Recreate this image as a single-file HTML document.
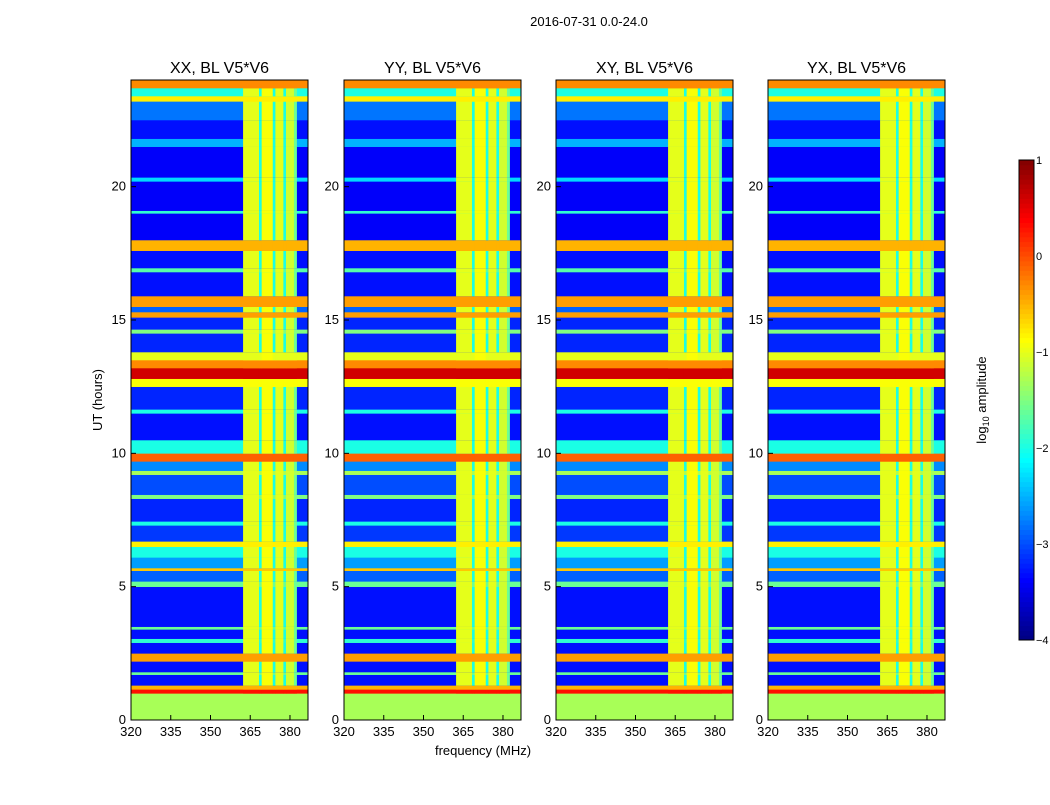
<!DOCTYPE html>
<html><head><meta charset="utf-8"><style>
body{margin:0;background:#fff;}
svg text{font-family:"Liberation Sans",sans-serif;}
</style></head><body>
<svg id="c" width="1050" height="800" xmlns="http://www.w3.org/2000/svg">
<text x="589" y="26" font-size="13" text-anchor="middle">2016-07-31 0.0-24.0</text>
<text x="483" y="755" font-size="13" text-anchor="middle">frequency (MHz)</text>
<text x="102" y="400" font-size="13" text-anchor="middle" transform="rotate(-90 102 400)">UT (hours)</text>
<text x="986" y="400" font-size="13" text-anchor="middle" transform="rotate(-90 986 400)">log<tspan font-size="9" dy="3">10</tspan><tspan dy="-3"> amplitude</tspan></text>
<g id="panels"></g>
<g id="cbar"></g>
</svg>
<script>
const panelTitles=["XX, BL V5*V6","YY, BL V5*V6","XY, BL V5*V6","YX, BL V5*V6"];
const panelLefts=[131,344,556,768];
const xTicks=[320,335,350,365,380];
const yTicks=[0,5,10,15,20];
const cbTicks=[1,0,-1,-2,-3,-4];
// time segments: [startHour, endHour, log10 amplitude]
const timeSegs=[[0,1,-1.3],[1,1.15,0.3],[1.15,1.3,-0.5],[1.3,1.7,-3.3],[1.7,1.8,-1.6],[1.8,2.2,-3.3],[2.2,2.5,-0.4],[2.5,2.9,-3.3],[2.9,3.05,-1.9],[3.05,3.4,-3.3],[3.4,3.5,-1.6],[3.5,5,-3.3],[5,5.2,-1.6],[5.2,5.6,-2.9],[5.6,5.7,-0.6],[5.7,6.1,-2.6],[6.1,6.5,-2.0],[6.5,6.7,-0.8],[6.7,7.3,-3.1],[7.3,7.45,-2.0],[7.45,8.3,-3.2],[8.3,8.45,-1.5],[8.45,9.2,-3.0],[9.2,9.35,-1.3],[9.35,9.7,-2.7],[9.7,10,-0.1],[10,10.5,-2.0],[10.5,11.5,-3.3],[11.5,11.65,-2.0],[11.65,12.5,-3.2],[12.5,12.8,-0.9],[12.8,13.2,0.6],[13.2,13.5,-0.3],[13.5,13.8,-1.0],[13.8,14.5,-3.2],[14.5,14.65,-1.5],[14.65,15.1,-3.2],[15.1,15.3,-0.4],[15.3,15.5,-2.9],[15.5,15.9,-0.4],[15.9,16.8,-3.3],[16.8,16.95,-1.7],[16.95,17.6,-3.3],[17.6,18,-0.5],[18,19,-3.4],[19,19.1,-1.9],[19.1,20.2,-3.4],[20.2,20.35,-2.3],[20.35,21.5,-3.4],[21.5,21.8,-2.5],[21.8,22.5,-3.3],[22.5,23.2,-2.8],[23.2,23.4,-0.8],[23.4,23.7,-2.0],[23.7,24,-0.3]];
// frequency segments (RFI columns): [startMHz, endMHz, log10 amplitude]
const freqSegs=[[362.3,368.3,-1.0],[368.3,369.3,-2.0],[369.3,373.5,-0.9],[373.5,374.5,-2.0],[374.5,377.5,-1.0],[377.5,378.5,-2.0],[378.5,381.5,-1.1],[381.5,382.5,-1.6]];
const xMin=320,xMax=386.8,yMin=0,yMax=24,pw=177,pTop=80,pBot=720;
function jet(v){let t=(v+4)/5;t=Math.max(0,Math.min(1,t));
 const r=Math.max(0,Math.min(1,1.5-Math.abs(4*t-3))),g=Math.max(0,Math.min(1,1.5-Math.abs(4*t-2))),b=Math.max(0,Math.min(1,1.5-Math.abs(4*t-1)));
 return `rgb(${Math.round(r*255)},${Math.round(g*255)},${Math.round(b*255)})`;}
const NS="http://www.w3.org/2000/svg";
function mk(t,a,p){const e=document.createElementNS(NS,t);for(const k in a)e.setAttribute(k,a[k]);p.appendChild(e);return e;}
const P=document.getElementById('panels');
panelLefts.forEach((L,i)=>{
 const xs=f=>L+(f-xMin)/(xMax-xMin)*pw, ys=h=>pBot-(h-yMin)/(yMax-yMin)*(pBot-pTop);
 const g=mk('g',{},P);
 
 
 timeSegs.forEach(s=>{
  const r=mk('rect',{x:L,y:ys(s[1]),width:pw,height:ys(s[0])-ys(s[1])+0.3,fill:jet(s[2])},g);
  
  
  if(s[0]>=1) freqSegs.forEach(f=>{
   const c=mk('rect',{x:xs(f[0]),y:ys(s[1]),width:xs(f[1])-xs(f[0])+0.3,height:ys(s[0])-ys(s[1])+0.3,fill:jet(Math.max(s[2],f[2]))},g);
   
   
  });
 });
 mk('rect',{x:L,y:pTop,width:pw,height:pBot-pTop,fill:'none',stroke:'#000','stroke-width':1},g);
 const t=mk('text',{x:L+pw/2,y:73,'font-size':16,'text-anchor':'middle'},g);t.textContent=panelTitles[i];
 
 
 xTicks.forEach(v=>{const x=xs(v);mk('line',{x1:x,x2:x,y1:pBot,y2:pBot-5,stroke:'#000'},g);
  const tx=mk('text',{x:x,y:pBot+16,'font-size':13,'text-anchor':'middle'},g);tx.textContent=v;
  
  });
 yTicks.forEach(v=>{const y=ys(v);mk('line',{x1:L,x2:L+5,y1:y,y2:y,stroke:'#000'},g);
  const tx=mk('text',{x:L-5,y:y+4,'font-size':13,'text-anchor':'end'},g);tx.textContent=v;
  
  });
});
const C=document.getElementById('cbar');
const cx=1019,cw=15,ct=160,cb=640,cs=v=>cb-(v+4)/5*(cb-ct);
for(let k=0;k<100;k++){const v=-4+k*0.05;mk('rect',{x:cx,y:cs(v+0.05),width:cw,height:cs(v)-cs(v+0.05)+0.5,fill:jet(v+0.025)},C);}
mk('rect',{x:cx,y:ct,width:cw,height:cb-ct,fill:'none',stroke:'#000'},C);
cbTicks.forEach(v=>{const y=cs(v);const t=mk('text',{x:1036,y:y+4,'font-size':11,'text-anchor':'start'},C);t.textContent=(v<0?'\u2212'+(-v):v);
 
 });


</script>
</body></html>
